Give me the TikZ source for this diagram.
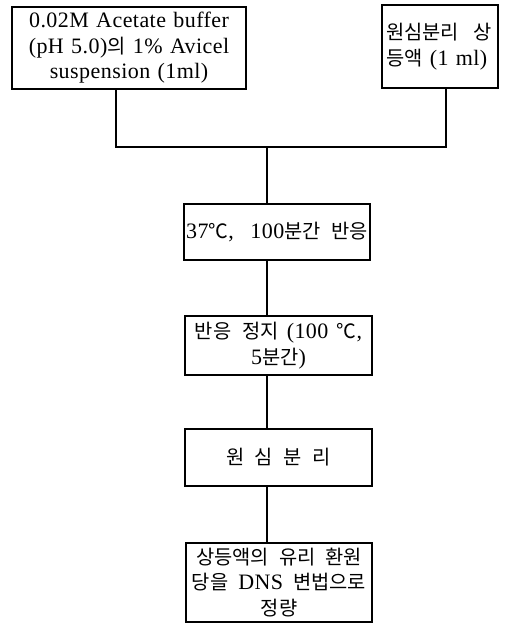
\documentclass[tikz,border=0pt]{standalone}
\usepackage{fontspec}
\setmainfont{Liberation Serif}[LetterSpace=2,WordSpace=1.4]
\newfontfamily\kr{Noto Sans CJK KR}[Scale=0.9,WordSpace=1.2]
\begin{document}
\begin{tikzpicture}[x=1pt,y=-1pt,
  box/.style={draw,line width=1.3pt,inner sep=0pt,align=center,
    font=\fontsize{22}{25.5}\selectfont},
  conn/.style={line width=1.3pt}]
\useasboundingbox (0,0) rectangle (506,628);
\node[box,minimum width=234pt,minimum height=82pt,text width=230pt] (b1) at (129,48)
  {0.02M Acetate buffer\\(pH 5.0){\kr 의} 1\% Avicel\\suspension (1ml)};
\node[box,minimum width=116pt,minimum height=83pt,text width=108pt,align=left] (b2) at (440,46.5)
  {{\kr 원심분리\ \ 상}\\{\kr 등액} (1\ ml)};
\node[box,minimum width=186pt,minimum height=56pt] (b3) at (277,232)
  {37{\kr ℃},\ \ 100{\kr 분간\ \ 반응}};
\node[box,minimum width=187pt,minimum height=59pt] (b4) at (278.5,345.5)
  {{\kr 반응\ \ 정지} (100\ {\kr ℃},\\5{\kr 분간})};
\node[box,minimum width=187pt,minimum height=57pt] (b5) at (278.5,457.5)
  {{\kr 원\ \ 심\ \ 분\ \ 리}};
\node[box,minimum width=186pt,minimum height=79pt] (b6) at (279,582.5)
  {{\kr 상등액의\hspace{10pt}유리\hspace{10pt}환원}\\{\kr 당을}\hspace{10pt}DNS\hspace{10pt}{\kr 변법으로}\\{\kr 정량}};
\coordinate (l) at (116,147);
\coordinate (r) at (446,147);
\coordinate (j) at (267,147);
\draw[conn] (b1.south -| l) -- (l) -- (r) -- (b2.south -| r);
\draw[conn] (j) -- (b3.north -| j);
\draw[conn] (b3.south -| j) -- (b4.north -| j);
\draw[conn] (b4.south -| j) -- (b5.north -| j);
\draw[conn] (b5.south -| j) -- (b6.north -| j);
\end{tikzpicture}
\end{document}
